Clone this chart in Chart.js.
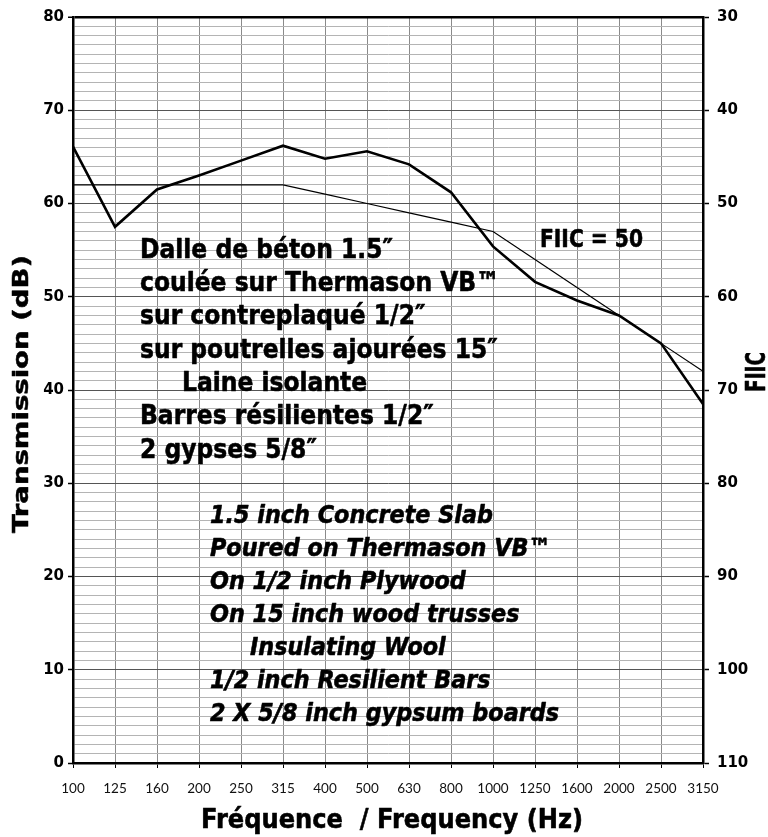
<!DOCTYPE html>
<html>
<head>
<meta charset="utf-8">
<script src="https://cdn.jsdelivr.net/npm/chart.js@4.4.1/dist/chart.umd.min.js"></script>
<style>
  html, body { margin: 0; padding: 0; background: #fff; }
  canvas { display: block; }
</style>
</head>
<body>
<canvas id="chart" width="768" height="837"></canvas>
<script>
    // Third-octave bands (Hz)
    var freqLabels = ['100', '125', '160', '200', '250', '315', '400', '500', '630',
                      '800', '1000', '1250', '1600', '2000', '2500', '3150'];

    // Measured impact transmission (thick line), dB
    var measured = [66.1, 57.5, 61.5, 63.0, 64.6, 66.2, 64.8, 65.6, 64.2,
                    61.2, 55.4, 51.6, 49.6, 48.0, 45.0, 38.5];

    // Shifted reference curve (thin line), dB
    var reference = [62, 62, 62, 62, 62, 62, 61, 60, 59, 58, 57, 54, 51, 48, 45, 42];

    var frenchLines = [
        'Dalle de béton 1.5″',
        'coulée sur Thermason VB™',
        'sur contreplaqué 1/2″',
        'sur poutrelles ajourées 15″',
        'Laine isolante',
        'Barres résilientes 1/2″',
        '2 gypses 5/8″'
    ];

    var englishLines = [
        '1.5 inch Concrete Slab',
        'Poured on Thermason VB™',
        'On 1/2 inch Plywood',
        'On 15 inch wood trusses',
        'Insulating Wool',
        '1/2 inch Resilient Bars',
        '2 X 5/8 inch gypsum boards'
    ];

    var FAMILY = '"DejaVu Sans", sans-serif';
    var CAP = 0.729; // cap height ratio of DejaVu Sans

    /**
     * Draw heavy text whose cap height and width are fitted to the
     * original face.  sx is the horizontal squeeze factor.
     */
    function drawText(ctx, text, x, capMid, size, sx, opts) {
        opts = opts || {};
        ctx.save();
        ctx.font = (opts.italic ? 'italic ' : '') + 'bold ' + size + 'px ' + FAMILY;
        ctx.fillStyle = '#000';
        ctx.strokeStyle = '#000';
        ctx.lineWidth = opts.stroke || 0.6;
        ctx.lineJoin = 'round';
        ctx.textAlign = opts.align || 'left';
        ctx.textBaseline = 'alphabetic';
        ctx.translate(x, capMid);
        if (opts.rotate) ctx.rotate(-Math.PI / 2);
        ctx.scale(sx, 1);
        ctx.fillText(text, 0, size * CAP / 2);
        ctx.strokeText(text, 0, size * CAP / 2);
        ctx.restore();
    }

    function fitScale(ctx, text, size, target, italic) {
        ctx.save();
        ctx.font = (italic ? 'italic ' : '') + 'bold ' + size + 'px ' + FAMILY;
        var w = ctx.measureText(text).width;
        ctx.restore();
        return target / w;
    }

    var notesPlugin = {
        id: 'notes',
        afterDraw: function(chart) {
            var ctx = chart.ctx;
            var i;

            // French description
            var frSize = 27;
            var frSx = fitScale(ctx, frenchLines[0], frSize, 253, false);
            for (i = 0; i < frenchLines.length; i++) {
                drawText(ctx, frenchLines[i], i === 4 ? 182 : 140, 248 + 33.3 * i, frSize, frSx);
            }

            // English description
            var enSize = 25;
            var enSx = fitScale(ctx, englishLines[0], enSize, 283, true);
            for (i = 0; i < englishLines.length; i++) {
                drawText(ctx, englishLines[i], i === 4 ? 250 : 210, 514 + 33 * i, enSize, enSx, { italic: true });
            }

            // Rating
            var fiicSx = fitScale(ctx, 'FIIC = 50', 25, 103, false);
            drawText(ctx, 'FIIC = 50', 540, 238, 25, fiicSx);

            // Axis titles
            var xt = 'Fréquence  / Frequency (Hz)';
            drawText(ctx, xt, 392, 818, 27, fitScale(ctx, xt, 27, 382, false), { align: 'center' });

            var yt = 'Transmission (dB)';
            drawText(ctx, yt, 20.5, 394, 21, fitScale(ctx, yt, 21, 278, false), { align: 'center', rotate: true, stroke: 0.5 });

            drawText(ctx, 'FIIC', 755, 372, 27, fitScale(ctx, 'FIIC', 27, 40, false), { align: 'center', rotate: true });
        }
    };

    new Chart(document.getElementById('chart').getContext('2d'), {
        type: 'line',
        data: {
            labels: freqLabels,
            datasets: [{
                label: 'Reference',
                data: reference,
                borderColor: '#000',
                borderWidth: 1.2,
                pointRadius: 0,
                tension: 0,
                yAxisID: 'y'
            }, {
                label: 'Measured',
                data: measured,
                borderColor: '#000',
                borderWidth: 2.6,
                pointRadius: 0,
                tension: 0,
                yAxisID: 'y'
            }]
        },
        options: {
            responsive: false,
            animation: false,
            layout: { padding: { top: 16, left: 0, right: 0, bottom: 0 } },
            plugins: {
                legend: { display: false },
                tooltip: { enabled: false }
            },
            scales: {
                x: {
                    type: 'category',
                    offset: false,
                    afterFit: function(s) { s.height = 74; },
                    border: { color: '#000', width: 2.5 },
                    grid: {
                        color: '#8a8a8a',
                        lineWidth: 1,
                        tickColor: '#000',
                        tickLength: 5
                    },
                    ticks: {
                        autoSkip: false,
                        maxRotation: 0,
                        padding: 13,
                        color: '#111',
                        font: { family: 'Lato', size: 13.5 }
                    }
                },
                y: {
                    position: 'left',
                    min: 0,
                    max: 80,
                    afterFit: function(s) { s.width = 73; },
                    border: { color: '#000', width: 2.5 },
                    grid: {
                        color: function(c) {
                            var v = c.tick.value;
                            if (v === 80) return '#000';
                            return v % 10 === 0 ? '#555' : '#b4b4b4';
                        },
                        lineWidth: function(c) { return c.tick.value === 80 ? 2.5 : 1; },
                        tickColor: function(c) {
                            return c.tick.value % 10 === 0 ? '#000' : 'rgba(0,0,0,0)';
                        },
                        tickWidth: 1.5,
                        tickLength: 5
                    },
                    ticks: {
                        stepSize: 1,
                        autoSkip: false,
                        padding: 4,
                        color: '#000',
                        font: { family: FAMILY, size: 15, weight: 'bold' },
                        callback: function(v) { return v % 10 === 0 ? v : ''; }
                    }
                },
                y2: {
                    position: 'right',
                    min: 30,
                    max: 110,
                    reverse: true,
                    afterFit: function(s) { s.width = 65; },
                    border: { color: '#000', width: 2.5 },
                    grid: {
                        drawOnChartArea: false,
                        tickColor: '#000',
                        tickWidth: 1.5,
                        tickLength: 6
                    },
                    ticks: {
                        stepSize: 10,
                        padding: 8,
                        color: '#000',
                        font: { family: FAMILY, size: 15, weight: 'bold' }
                    }
                }
            }
        },
        plugins: [notesPlugin]
    });
</script>
</body>
</html>
